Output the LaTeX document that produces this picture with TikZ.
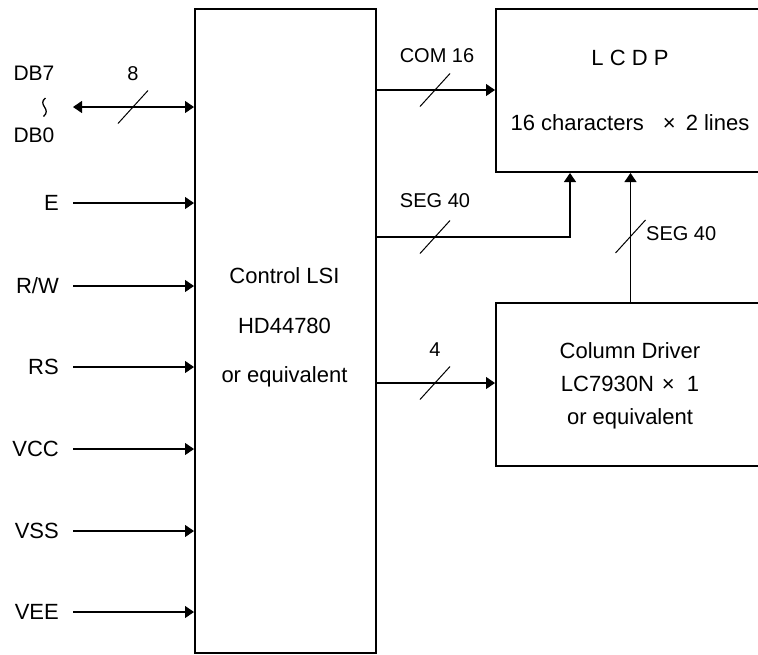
\documentclass[tikz,border=0pt]{standalone}
\usepackage{fontspec}
\setmainfont{Liberation Sans}
\usetikzlibrary{arrows.meta}
\begin{document}
\begin{tikzpicture}[x=1pt,y=-1pt,
  blk/.style={draw, line width=2pt, inner sep=0pt, anchor=north west},
  sig/.style={line width=1.1pt, -{Triangle[length=9pt,width=12pt]}},
  dsig/.style={line width=1.1pt, {Triangle[length=9pt,width=12pt]}-{Triangle[length=9pt,width=12pt]}},
  slash/.style={line width=1pt},
  txt/.style={inner sep=0pt, anchor=base, font=\fontsize{22}{26}\selectfont},
  lbl/.style={inner sep=0pt, anchor=base, font=\fontsize{20}{24}\selectfont},
  pinlbl/.style={inner sep=0pt, anchor=base east, font=\fontsize{22}{26}\selectfont}]
\clip (0,0) rectangle (758,654);
\fill[white] (0,0) rectangle (758,654);
% boxes
\node[blk, minimum width=181pt, minimum height=644pt] (ctrl) at (194,8) {};
\node[blk, minimum width=270pt, minimum height=163pt] (lcd) at (495,8) {};
\node[blk, minimum width=270pt, minimum height=163pt] (col) at (495,302) {};
% box texts
\node[txt] (c1) at (284.5,283.5) {Control LSI};
\node[txt] (c2) at (284.5,333) {HD44780};
\node[txt] (c3) at (284.5,382) {or equivalent};
\node[txt] (l1) at (630,65) {L C D P};
\node[txt] (l2) at (630,130) {16 characters\hspace{19pt}×\hspace{10pt}2 lines};
\node[txt] (d1) at (630,358) {Column Driver};
\node[txt] (d2) at (630,391) {LC7930N\hspace{8pt}×\hspace{12pt}1};
\node[txt] (d3) at (630,424) {or equivalent};
% data bus
\node[lbl, font=\fontsize{21}{24}\selectfont] (db7) at (34,80) {DB7};
\draw[line width=1.3pt] (45.5,98) .. controls (41.5,101) and (42.5,104) .. (44.5,107)
  .. controls (46.5,110) and (47.5,113) .. (43.5,116.5);
\node[lbl, font=\fontsize{21}{24}\selectfont] (db0) at (34,142) {DB0};
\coordinate (dbL) at (73,107);
\draw[dsig] (dbL) -- (dbL -| ctrl.west);
\draw[slash] (118,123.5) -- (148,90.5);
\node[lbl] (n8) at (133,80) {8};
% pins
\foreach \n/\t/\y in {E/E/203, RW/{R/W}/286, RS/RS/367, VCC/VCC/449, VSS/VSS/531, VEE/VEE/612}{
  \node[pinlbl] (p\n) at (59,\y+7) {\t};
  \coordinate (s\n) at (73,\y);
  \draw[sig] (s\n) -- (s\n -| ctrl.west);
}
% COM 16
\coordinate (yCOM) at (0,90);
\draw[sig] (ctrl.east |- yCOM) -- (lcd.west |- yCOM);
\draw[slash] (420,106.5) -- (450,73.5);
\node[lbl] (com) at (437,62.5) {COM 16};
% SEG 40 (left)
\coordinate (segc) at (570,237);
\draw[sig] (ctrl.east |- segc) -- (segc) -- (segc |- lcd.south);
\draw[slash] (420,253.5) -- (450,220.5);
\node[lbl] (seg1) at (435,207) {SEG 40};
% SEG 40 (right)
\coordinate (xR) at (630.5,0);
\draw[sig] (col.north -| xR) -- (lcd.south -| xR);
\draw[slash] (615.5,253) -- (645.5,220);
\node[lbl, anchor=base west] (seg2) at (646,240) {SEG 40};
% 4
\coordinate (y4) at (0,383);
\draw[sig] (ctrl.east |- y4) -- (col.west |- y4);
\draw[slash] (420,399.5) -- (450,366.5);
\node[lbl] (n4) at (435,356) {4};
\end{tikzpicture}
\end{document}
